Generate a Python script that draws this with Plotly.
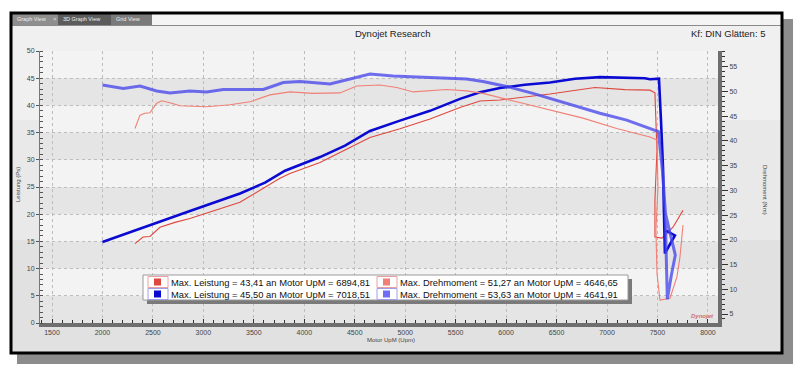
import plotly.graph_objects as go

# ---------------- data ----------------
rpm_blue_power = [2000, 2372, 2867, 3363, 3611, 3809, 4156, 4404, 4651, 4948, 5246, 5543, 5741, 5939,
                  6187, 6435, 6682, 6930, 7178, 7376, 7426, 7515, 7535, 7555, 7564, 7574, 7673, 7584]
blue_power = [14.9, 17.4, 20.6, 23.8, 25.8, 28.0, 30.5, 32.6, 35.3, 37.2, 39.0, 41.2, 42.4, 43.2,
              43.8, 44.2, 44.9, 45.2, 45.1, 45.0, 44.8, 44.9, 37.2, 28.6, 20.7, 12.8, 16.1, 17.0]

rpm_blue_torque = [2000, 2207, 2372, 2537, 2669, 2867, 3033, 3197, 3363, 3594, 3792, 3957, 4255, 4502,
                   4651, 4879, 5077, 5345, 5609, 5771, 6006, 6266, 6600, 6930, 7195, 7430, 7509, 7549,
                   7579, 7588, 7598, 7638, 7677, 7629, 7579]
blue_torque = [51.3, 50.6, 51.1, 50.1, 49.7, 50.1, 49.9, 50.4, 50.4, 50.4, 51.8, 52.0, 51.5, 52.7,
               53.5, 53.1, 52.9, 52.7, 52.5, 52.0, 51.0, 49.6, 47.6, 45.6, 44.2, 42.5, 41.9, 34.1,
               25.4, 15.9, 8.0, 12.9, 16.9, 21.0, 25.4]

rpm_red_power = [2322, 2402, 2471, 2570, 2719, 2867, 3363, 3759, 3858, 4156, 4651, 4948, 5246, 5543,
                 5741, 5939, 6435, 6881, 7178, 7426, 7475, 7495, 7475, 7475, 7475, 7545, 7654, 7753]
red_power = [14.6, 15.8, 15.9, 17.6, 18.5, 19.2, 22.2, 26.6, 27.5, 29.5, 34.1, 35.7, 37.5, 39.6,
             40.8, 41.0, 42.1, 43.3, 42.9, 42.8, 42.3, 31.7, 22.5, 18.3, 15.8, 15.6, 17.6, 20.7]

rpm_red_torque = [2322, 2372, 2421, 2471, 2537, 2587, 2669, 2768, 3033, 3264, 3462, 3660, 3858, 4086,
                  4354, 4519, 4750, 4916, 5080, 5246, 5411, 5609, 5771, 6105, 6435, 6762, 7096, 7426,
                  7495, 7505, 7485, 7495, 7525, 7624, 7693, 7723, 7753]
red_torque = [42.5, 45.2, 45.6, 45.7, 47.6, 48.1, 47.7, 47.1, 46.9, 47.3, 47.9, 49.3, 49.9, 49.6,
              49.7, 51.1, 51.3, 50.8, 49.9, 50.2, 50.4, 50.1, 49.6, 47.9, 46.2, 44.6, 42.5, 40.8,
              40.2, 30.7, 22.0, 13.3, 7.8, 8.2, 12.5, 16.5, 23.0]

x_ticks = [1500, 2000, 2500, 3000, 3500, 4000, 4500, 5000, 5500, 6000, 6500, 7000, 7500, 8000]
left_ticks = [0, 5, 10, 15, 20, 25, 30, 35, 40, 45, 50]
right_ticks = [5, 10, 15, 20, 25, 30, 35, 40, 45, 50, 55]

legend_rows = [
    ("Max. Leistung = 43,41 an Motor UpM = 6894,81", "Max. Drehmoment = 51,27 an Motor UpM = 4646,65"),
    ("Max. Leistung = 45,50 an Motor UpM = 7018,51", "Max. Drehmoment = 53,63 an Motor UpM = 4641,91"),
]

C_BLUE_P = "#0a0ad2"
C_BLUE_T = "rgba(70,70,235,0.78)"
C_RED_P = "rgb(222,72,62)"
C_RED_T = "rgb(240,128,118)"

# ---------------- layout geometry (pixels -> paper) ----------------
PL, PR, PT, PB = 40, 718, 51, 323
W, H = 800, 378


def px(x):
    return (x - PL) / (PR - PL)


def py(y):
    return (PB - y) / (PB - PT)


FONT = "Liberation Sans, Arial, sans-serif"

fig = go.Figure()
fig.add_trace(go.Scatter(x=rpm_red_torque, y=red_torque, yaxis="y2", mode="lines",
                         line=dict(color=C_RED_T, width=1.1), showlegend=False))
fig.add_trace(go.Scatter(x=rpm_red_power, y=red_power, mode="lines",
                         line=dict(color=C_RED_P, width=1.1), showlegend=False))
fig.add_trace(go.Scatter(x=rpm_blue_torque, y=blue_torque, yaxis="y2", mode="lines",
                         line=dict(color=C_BLUE_T, width=3), showlegend=False))
fig.add_trace(go.Scatter(x=rpm_blue_power, y=blue_power, mode="lines",
                         line=dict(color=C_BLUE_P, width=2.6), showlegend=False))

shapes = []


def rect(x0, y0, x1, y1, fill=None, line_color=None, lw=0, layer="below"):
    shapes.append(dict(type="rect", xref="paper", yref="paper",
                       x0=px(x0), x1=px(x1), y0=py(y1), y1=py(y0),
                       fillcolor=fill if fill else "rgba(0,0,0,0)",
                       line=dict(color=line_color if line_color else "rgba(0,0,0,0)", width=lw),
                       layer=layer))


def hline(x0, x1, y, color, lw=1, layer="below"):
    shapes.append(dict(type="line", xref="paper", yref="paper", x0=px(x0), x1=px(x1),
                       y0=py(y), y1=py(y), line=dict(color=color, width=lw), layer=layer))


# window shadow + window
rect(17, 19, 793, 364, fill="#8c8c8c")
rect(11, 13, 782, 353, fill="#e6e6e6")
rect(12, 26, 781, 120, fill="#f0f0f0")
rect(12, 120, 781, 240, fill="#e9e9e9")
rect(12, 240, 781, 352, fill="#e1e1e1")
# tab bar
rect(12, 13, 781, 25, fill="#f4f4f4")
hline(12, 781, 25.5, "#8a8a8a", 1)
rect(12, 13, 58, 25, fill="#8e8e8e")
rect(58, 13, 111, 25, fill="#5c5c5c")
rect(111, 13, 152, 25, fill="#7a7a7a")
# plot background + bands
rect(PL, PT, PR, PB, fill="#f3f3f3")
for lo in [40, 30, 20, 10, 0]:
    shapes.append(dict(type="rect", xref="paper", yref="y", x0=0, x1=1, y0=lo, y1=lo + 5,
                       fillcolor="#e5e5e5", line=dict(width=0), layer="below"))
# border of window
rect(11, 13, 782, 353, line_color="#000000", lw=3, layer="above")

# legend box
rect(147, 279, 632, 304, fill="#7a7a7a", layer="above")
rect(143, 275, 628, 300, fill="#ffffff", line_color="#9a9a9a", lw=1, layer="above")
sq = [[C_RED_P, C_RED_T], [C_BLUE_P, "rgb(110,110,245)"]]
sq_border = [["#e8a0a0", "#e8a0a0"], ["#a0a0e8", "#a0a0e8"]]
row_y = [282, 294]
col_x = [148, 377]
for r in range(2):
    for c in range(2):
        x0 = col_x[c]
        yc = row_y[r]
        rect(x0, yc - 5.5, x0 + 20, yc + 5.5, fill="#ffffff", line_color=sq_border[r][c], lw=1,
             layer="above")
        rect(x0 + 6, yc - 3.5, x0 + 13, yc + 3.5, fill=sq[r][c], layer="above")

annotations = []


def text(x, y, s, size=8.5, color="#222", xanchor="left", textangle=0, yanchor="middle",
         family=FONT):
    annotations.append(dict(xref="paper", yref="paper", x=px(x), y=py(y), text=s, showarrow=False,
                            xanchor=xanchor, yanchor=yanchor, textangle=textangle,
                            font=dict(size=size, color=color, family=family)))


for r in range(2):
    for c in range(2):
        text(col_x[c] + 21, row_y[r], legend_rows[r][c], size=9.4, color="#111")

text(393, 33, "Dynojet Research", size=9.5, color="#222", xanchor="center")
text(767, 33, "Kf: DIN Glätten: 5", size=9.5, color="#222", xanchor="right")
text(15, 19, "Graph View", size=5.5, color="#eeeeee")
text(51, 19, "×", size=6, color="#dddddd")
text(61, 19, "3D Graph View", size=5.5, color="#eeeeee")
text(114, 19, "Grid View", size=5.5, color="#eeeeee")
text(18, 185, "Leistung (Ps)", size=6, color="#444", xanchor="center", textangle=-90)
text(765, 190, "Drehmoment (Nm)", size=6, color="#444", xanchor="center", textangle=90)
text(391, 340, "Motor UpM (Upm)", size=6, color="#444", xanchor="center")
text(702, 316, "<i><b>Dynojet</b></i>", size=6, color="#d07070", xanchor="center")

fig.update_layout(
    width=W, height=H,
    margin=dict(l=PL, r=W - PR, t=PT, b=H - PB),
    paper_bgcolor="#ffffff",
    plot_bgcolor="rgba(0,0,0,0)",
    showlegend=False,
    shapes=shapes,
    annotations=annotations,
    xaxis=dict(range=[1381, 8100], tickvals=x_ticks, ticks="inside", ticklen=4, tickcolor="#333",
               tickwidth=1, showline=True, linewidth=4, linecolor="#6e6e6e",
               showgrid=True, gridcolor="#bdbdbd", griddash="dot", gridwidth=1, zeroline=False,
               tickfont=dict(size=7, color="#444", family=FONT),
               minor=dict(dtick=100, ticks="inside", ticklen=3, tickcolor="#333", showgrid=False)),
    yaxis=dict(range=[0, 50], tickvals=left_ticks, ticks="outside", ticklen=3, tickcolor="#555",
               showline=True, linewidth=1, linecolor="#777", showgrid=True, gridcolor="#bdbdbd",
               griddash="dot", gridwidth=1, zeroline=False,
               tickfont=dict(size=7, color="#444", family=FONT),
               minor=dict(dtick=1, ticks="inside", ticklen=3, tickcolor="#555", showgrid=False)),
    yaxis2=dict(range=[3.18, 58.17], tickvals=right_ticks, overlaying="y", side="right",
                ticks="outside", ticklen=6, tickcolor="#333", showline=True, linewidth=4,
                linecolor="#6e6e6e", showgrid=False, zeroline=False,
                tickfont=dict(size=7, color="#444", family=FONT),
                minor=dict(dtick=1, ticks="outside", ticklen=3, tickcolor="#333", showgrid=False)),
)

fig.write_html("out.html", config={"displayModeBar": False},
               post_script="document.body.style.margin='0';document.body.style.overflow='hidden';")
